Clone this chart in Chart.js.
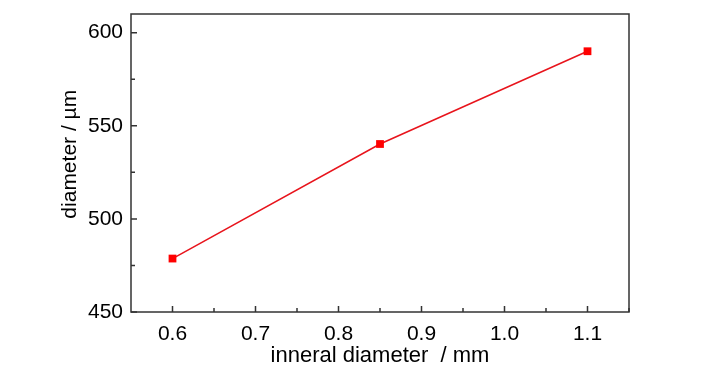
<!DOCTYPE html>
<html>
<head>
<meta charset="utf-8">
<script src="https://cdn.jsdelivr.net/npm/chart.js@4/dist/chart.umd.min.js"></script>
<style>
  html, body { margin: 0; padding: 0; background: #fff; }
  #wrap { width: 728px; height: 372px; }
</style>
</head>
<body>
<div id="wrap"><canvas id="c"></canvas></div>
<script>
const innerDiameter = [0.6, 0.85, 1.1];
const outerDiameter = [478.7, 540.2, 590.0];
const xTicks = [0.6, 0.7, 0.8, 0.9, 1.0, 1.1];
const yTicks = [450, 500, 550, 600];

const fontFamily = '"Liberation Sans", Arial, sans-serif';
const axisColor = '#333';

// inward ticks + closed frame
const frame = {
  id: 'frame',
  afterDraw(chart) {
    const ctx = chart.ctx;
    const a = chart.chartArea;
    const xs = chart.scales.x, ys = chart.scales.y;
    ctx.save();
    ctx.strokeStyle = axisColor;
    ctx.lineWidth = 1.5;
    ctx.strokeRect(a.left, a.top, a.right - a.left, a.bottom - a.top);
    ctx.beginPath();
    for (let v = 0.6; v <= 1.151; v += 0.05) {
      const px = xs.getPixelForValue(v);
      const major = Math.abs(Math.round(v * 10) - v * 10) < 1e-6;
      ctx.moveTo(px, a.bottom);
      ctx.lineTo(px, a.bottom - (major ? 6 : 4));
    }
    for (let v = 450; v <= 610; v += 25) {
      const py = ys.getPixelForValue(v);
      const major = v % 50 === 0;
      ctx.moveTo(a.left, py);
      ctx.lineTo(a.left + (major ? 6 : 4), py);
    }
    ctx.stroke();
    ctx.restore();
  }
};

new Chart(document.getElementById('c'), {
  type: 'line',
  data: {
    datasets: [{
      data: innerDiameter.map((x, i) => ({ x: x, y: outerDiameter[i] })),
      borderColor: '#e8141c',
      backgroundColor: '#f00',
      borderWidth: 1.5,
      pointStyle: 'rect',
      pointRadius: 5.5,
      pointBorderWidth: 0,
      tension: 0
    }]
  },
  options: {
    responsive: true,
    maintainAspectRatio: false,
    animation: false,
    layout: { padding: { top: 14, right: 99, left: 0, bottom: 0 } },
    plugins: { legend: { display: false }, tooltip: { enabled: false } },
    scales: {
      x: {
        type: 'linear',
        min: 0.55,
        max: 1.15,
        afterBuildTicks(s) { s.ticks = xTicks.map(v => ({ value: v })); },
        afterFit(s) { s.height = 60; s.paddingLeft = 0; s.paddingRight = 0; },
        grid: { display: false, drawTicks: false },
        border: { display: false },
        ticks: {
          color: '#000',
          padding: 10,
          font: { family: fontFamily, size: 21 },
          callback: v => v.toFixed(1)
        },
        title: {
          display: true,
          text: 'inneral diameter  / mm',
          color: '#000',
          padding: { top: 0, bottom: 3 },
          font: { family: fontFamily, size: 22 }
        }
      },
      y: {
        min: 450,
        max: 610,
        afterBuildTicks(s) { s.ticks = yTicks.map(v => ({ value: v })); },
        afterFit(s) { s.width = 131; s.paddingTop = 0; s.paddingBottom = 0; },
        grid: { display: false, drawTicks: false },
        border: { display: false },
        ticks: {
          color: '#000',
          padding: 8,
          font: { family: fontFamily, size: 21 }
        },
        title: {
          display: true,
          text: '   diameter / µm',
          color: '#000',
          padding: { top: 58, bottom: 0 },
          font: { family: fontFamily, size: 21 }
        }
      }
    }
  },
  plugins: [frame]
});
</script>
</body>
</html>
